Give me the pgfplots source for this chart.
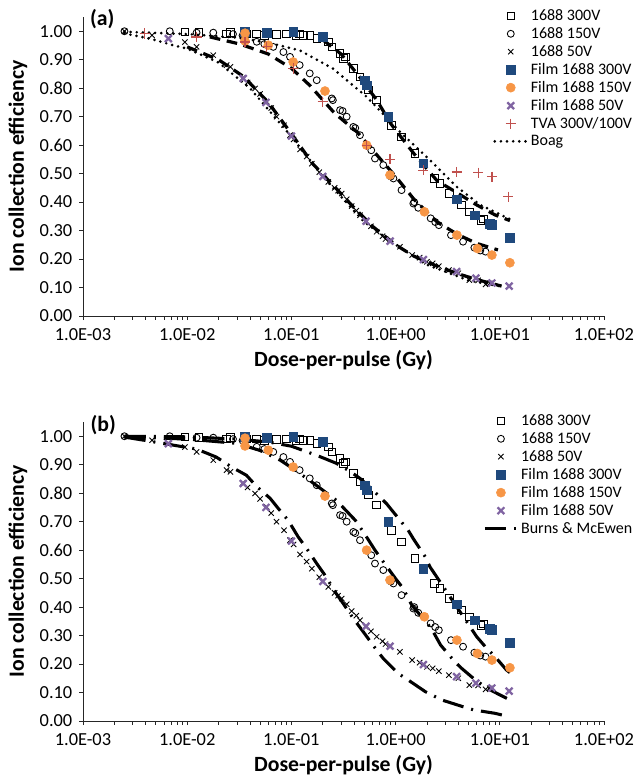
\documentclass[border=0pt]{standalone}
\usepackage{fontspec}
\setmainfont{Carlito}
\usepackage{pgfplots}
\pgfplotsset{compat=1.18}
\usepackage{pgfplotstable}

\definecolor{filmblue}{HTML}{1F497D}
\definecolor{filmorange}{HTML}{F79646}
\definecolor{filmpurple}{HTML}{8064A2}
\definecolor{tvared}{HTML}{C0504D}

% measured data (dose per pulse in Gy, collection efficiency)
\pgfplotstableread{
x y
0.0095 0.998
0.013 0.995
0.0239 0.990
0.026 0.995
0.037 0.990
0.046 0.990
0.055 0.985
0.072 0.988
0.090 0.990
0.110 0.985
0.120 0.990
0.130 0.985
0.150 0.986
0.175 0.974
0.226 0.963
0.244 0.945
0.293 0.922
0.315 0.904
0.330 0.910
0.393 0.869
0.455 0.840
0.550 0.793
0.658 0.758
0.915 0.670
1.14 0.629
1.53 0.571
2.37 0.483
2.66 0.466
3.30 0.430
4.30 0.390
5.10 0.365
6.60 0.336
7.00 0.340
}\volthree

\pgfplotstableread{
x y
0.0025 1.000
0.0068 1.000
0.0123 0.995
0.0178 0.995
0.0275 0.990
0.034 0.985
0.0465 0.963
0.055 0.955
0.067 0.945
0.0838 0.927
0.097 0.910
0.120 0.881
0.150 0.852
0.175 0.828
0.244 0.764
0.250 0.758
0.293 0.723
0.310 0.720
0.339 0.700
0.393 0.664
0.410 0.660
0.455 0.635
0.584 0.582
0.634 0.553
0.762 0.530
0.900 0.490
0.953 0.483
1.14 0.442
1.48 0.395
1.51 0.400
1.65 0.380
2.17 0.343
2.40 0.330
2.60 0.319
3.40 0.284
4.44 0.261
5.70 0.240
6.50 0.230
7.30 0.226
}\volone

\pgfplotstableread{
x y
0.0025 1.000
0.0046 0.986
0.0095 0.962
0.0123 0.945
0.0178 0.916
0.0239 0.881
0.026 0.875
0.034 0.835
0.038 0.820
0.0448 0.799
0.050 0.780
0.058 0.752
0.064 0.730
0.072 0.700
0.085 0.670
0.097 0.635
0.105 0.620
0.121 0.585
0.140 0.560
0.157 0.535
0.185 0.505
0.202 0.491
0.226 0.471
0.260 0.450
0.280 0.440
0.304 0.430
0.340 0.410
0.379 0.386
0.420 0.370
0.455 0.354
0.520 0.330
0.580 0.315
0.658 0.296
0.750 0.280
0.800 0.270
0.883 0.261
1.10 0.243
1.44 0.214
1.70 0.205
2.00 0.190
2.27 0.185
2.60 0.175
3.25 0.161
4.00 0.150
5.10 0.126
6.20 0.125
7.30 0.111
8.00 0.115
}\volfifty

\pgfplotstableread{
x y
0.0359 0.998
0.058 0.995
0.104 0.998
0.200 0.980
0.510 0.828
0.527 0.810
0.851 0.700
1.84 0.536
3.85 0.410
5.80 0.354
8.00 0.325
8.30 0.320
12.5 0.276
}\filmthree

\pgfplotstableread{
x y
0.0359 0.993
0.0359 0.966
0.060 0.951
0.104 0.892
0.210 0.790
0.527 0.600
0.883 0.495
1.89 0.366
3.88 0.284
6.10 0.237
8.40 0.214
12.5 0.187
}\filmone

\pgfplotstableread{
x y
0.0066 0.974
0.0345 0.834
0.057 0.750
0.100 0.632
0.200 0.490
0.520 0.333
0.885 0.263
1.85 0.198
3.85 0.156
5.90 0.133
8.40 0.116
12.3 0.105
}\filmfifty

\pgfplotstableread{
x y
0.0039 0.992
0.0123 0.980
0.0359 0.962
0.058 0.945
0.104 0.869
0.200 0.752
0.527 0.600
0.883 0.550
1.84 0.512
3.85 0.506
6.20 0.503
8.40 0.489
12.1 0.419
}\tva

\begin{document}
\begin{tikzpicture}
% ---------------- panel (a)
\begin{axis}[at={(62.25pt,-237pt)}, anchor=south west,
    scale only axis, width=390.75pt, height=224.25pt,
    xmode=log, xmin=1e-3, xmax=1e2, ymin=0, ymax=1.05,
    axis lines=left, axis line style={-, black!85, line width=0.6pt},
    tick align=outside, major tick length=3pt,
    tick style={black!85, line width=0.6pt},
    minor tick num=0,
    xtick={1e-3,1e-2,1e-1,1,10,100},
    xticklabels={1.0E-03,1.0E-02,1.0E-01,1.0E+00,1.0E+01,1.0E+02},
    ytick={0,0.1,0.2,0.3,0.4,0.5,0.6,0.7,0.8,0.9,1.0},
    yticklabels={0.00,0.10,0.20,0.30,0.40,0.50,0.60,0.70,0.80,0.90,1.00},
    tick label style={font=\fontsize{13.8}{16}\selectfont},
    xticklabel style={yshift=-3pt},
    yticklabel style={xshift=-1.5pt},
    xlabel={\textbf{Dose-per-pulse (Gy)}},
    ylabel={\textbf{Ion collection efficiency}},
    label style={font=\fontsize{16.3}{19}\selectfont},
    xlabel style={at={(axis description cs:0.5,-0.147)}, anchor=center},
    ylabel style={at={(axis description cs:-0.125,0.5)}, anchor=center},
    clip=false,
    legend cell align=left,
    legend image code/.code={\draw[mark repeat=2,mark phase=2,#1]
      plot coordinates {(0pt,0pt) (12pt,0pt) (24pt,0pt)};},
    legend style={at={(rel axis cs:0.787,1.035)}, anchor=north west,
      draw=none, fill=none, font=\fontsize{12}{13}\selectfont,
      inner xsep=0pt, inner ysep=0pt, row sep=-0.3pt},
  ]
\addplot[only marks, mark=square, mark size=2.8pt, black, mark options={line width=0.65pt}] table {\volthree};
\addlegendentry{1688 300V}
\addplot[only marks, mark=o, mark size=2.6pt, black, mark options={line width=0.65pt}] table {\volone};
\addlegendentry{1688 150V}
\addplot[only marks, mark=x, mark size=2.8pt, black, mark options={line width=0.65pt}] table {\volfifty};
\addlegendentry{1688 50V}
\addplot[only marks, mark=square*, mark size=3.3pt, filmblue] table {\filmthree};
\addlegendentry{Film 1688 300V}
\addplot[only marks, mark=*, mark size=3.4pt, filmorange] table {\filmone};
\addlegendentry{Film 1688 150V}
\addplot[only marks, mark=x, mark size=3.6pt, filmpurple, mark options={line width=1.7pt}] table {\filmfifty};
\addlegendentry{Film 1688 50V}
\addplot[only marks, mark=+, mark size=3.8pt, tvared, mark options={line width=0.9pt}] table {\tva};
\addlegendentry{TVA 300V/100V}
% Boag curves
\addplot[black, line width=2.2pt, line cap=round, dash pattern=on 0pt off 4.6pt, no marks] coordinates {
 (0.0025,0.998) (0.01,0.99) (0.03,0.978) (0.06,0.96) (0.12,0.933) (0.25,0.869)
 (0.527,0.77) (1.1,0.647) (2.3,0.536) (3.85,0.454) (6.5,0.39) (12.5,0.34)};
\addlegendentry{Boag}
\addplot[black, line width=2.2pt, line cap=round, dash pattern=on 0pt off 4.6pt, no marks, forget plot] coordinates {
 (0.0025,0.992) (0.0044,0.974) (0.0073,0.951) (0.01,0.939) (0.02,0.89) (0.04,0.8)
 (0.1,0.63) (0.2,0.49) (0.5,0.33) (1,0.25) (2,0.18) (5,0.125) (10,0.105)};
% dashed fits
\addplot[black, line width=2.4pt, dash pattern=on 8pt off 5pt, no marks, forget plot] coordinates {
 (0.2,0.97) (0.3,0.92) (0.45,0.84) (0.66,0.758) (0.9,0.675) (1.5,0.57) (2.5,0.475)
 (4,0.43) (6,0.39) (9,0.355) (12.5,0.335)};
\addplot[black, line width=2.4pt, dash pattern=on 8pt off 5pt, no marks, forget plot] coordinates {
 (0.0165,0.98) (0.032,0.955) (0.06,0.92) (0.1,0.87) (0.15,0.81) (0.26,0.712)
 (0.43,0.645) (0.7,0.555) (1,0.49) (1.5,0.41) (2.5,0.33) (4,0.285) (6,0.255) (9.6,0.232)};
\addplot[black, line width=2.4pt, dash pattern=on 8pt off 5pt, no marks, forget plot] coordinates {
 (0.01,0.945) (0.02,0.9) (0.035,0.84) (0.06,0.75) (0.1,0.64) (0.16,0.535)
 (0.25,0.46) (0.4,0.38) (0.6,0.315) (1,0.25) (1.5,0.21) (2.5,0.175) (4,0.148)
 (6,0.128) (10.4,0.105)};
\node[font=\fontsize{16.3}{19}\selectfont\bfseries] at (rel axis cs:0.037,0.993) {(a)};
\end{axis}
% ---------------- panel (b)
\begin{axis}[at={(62.25pt,-540.75pt)}, anchor=south west,
    scale only axis, width=390.75pt, height=224.25pt,
    xmode=log, xmin=1e-3, xmax=1e2, ymin=0, ymax=1.05,
    axis lines=left, axis line style={-, black!85, line width=0.6pt},
    tick align=outside, major tick length=3pt,
    tick style={black!85, line width=0.6pt},
    minor tick num=0,
    xtick={1e-3,1e-2,1e-1,1,10,100},
    xticklabels={1.0E-03,1.0E-02,1.0E-01,1.0E+00,1.0E+01,1.0E+02},
    ytick={0,0.1,0.2,0.3,0.4,0.5,0.6,0.7,0.8,0.9,1.0},
    yticklabels={0.00,0.10,0.20,0.30,0.40,0.50,0.60,0.70,0.80,0.90,1.00},
    tick label style={font=\fontsize{13.8}{16}\selectfont},
    xticklabel style={yshift=-3pt},
    yticklabel style={xshift=-1.5pt},
    xlabel={\textbf{Dose-per-pulse (Gy)}},
    ylabel={\textbf{Ion collection efficiency}},
    label style={font=\fontsize{16.3}{19}\selectfont},
    xlabel style={at={(axis description cs:0.5,-0.147)}, anchor=center},
    ylabel style={at={(axis description cs:-0.125,0.5)}, anchor=center},
    clip=false,
    legend cell align=left,
    legend image code/.code={\draw[mark repeat=2,mark phase=2,#1]
      plot coordinates {(0pt,0pt) (12pt,0pt) (24pt,0pt)};},
    legend style={at={(rel axis cs:0.768,1.035)}, anchor=north west,
      draw=none, fill=none, font=\fontsize{12}{13}\selectfont,
      inner xsep=0pt, inner ysep=0pt, row sep=-0.3pt},
  ]
\addplot[only marks, mark=square, mark size=2.8pt, black, mark options={line width=0.65pt}] table {\volthree};
\addlegendentry{1688 300V}
\addplot[only marks, mark=o, mark size=2.6pt, black, mark options={line width=0.65pt}] table {\volone};
\addlegendentry{1688 150V}
\addplot[only marks, mark=x, mark size=2.8pt, black, mark options={line width=0.65pt}] table {\volfifty};
\addlegendentry{1688 50V}
\addplot[only marks, mark=square*, mark size=3.3pt, filmblue] table {\filmthree};
\addlegendentry{Film 1688 300V}
\addplot[only marks, mark=*, mark size=3.4pt, filmorange] table {\filmone};
\addlegendentry{Film 1688 150V}
\addplot[only marks, mark=x, mark size=3.6pt, filmpurple, mark options={line width=1.7pt}] table {\filmfifty};
\addlegendentry{Film 1688 50V}
% Burns & McEwen curves
\addplot[black, line width=2.3pt, dash pattern=on 16pt off 6pt on 1.5pt off 6pt, no marks] coordinates {
 (0.0025,1.0) (0.01,0.998) (0.03,0.99) (0.06,0.98) (0.1,0.965) (0.175,0.933)
 (0.27,0.905) (0.36,0.878) (0.455,0.852) (0.584,0.816) (0.82,0.763) (0.98,0.728)
 (1.32,0.67) (1.48,0.64) (1.93,0.576) (2.14,0.541) (3.09,0.454) (3.86,0.401)
 (6.0,0.296) (7.5,0.255) (9.0,0.226) (11.6,0.179) (12.5,0.17)};
\addlegendentry{Burns \& McEwen}
\addplot[black, line width=2.3pt, dash pattern=on 16pt off 6pt on 1.5pt off 6pt, no marks, forget plot] coordinates {
 (0.0025,0.998) (0.01,0.99) (0.03,0.975) (0.05,0.95) (0.078,0.916) (0.11,0.88)
 (0.17,0.83) (0.27,0.775) (0.41,0.705) (0.49,0.664) (0.634,0.6) (0.762,0.559)
 (1.0,0.5) (1.18,0.466) (1.43,0.407) (2.07,0.337) (2.3,0.313) (2.7,0.267)
 (3.7,0.208) (4.3,0.185) (6,0.14) (8.5,0.105) (12.5,0.074)};
\addplot[black, line width=2.3pt, dash pattern=on 16pt off 6pt on 1.5pt off 6pt, no marks, forget plot] coordinates {
 (0.0025,0.997) (0.004,0.985) (0.0123,0.955) (0.019,0.927) (0.0266,0.892)
 (0.037,0.863) (0.0465,0.823) (0.0625,0.782) (0.075,0.746) (0.093,0.705)
 (0.116,0.647) (0.14,0.606) (0.175,0.553) (0.21,0.512) (0.27,0.447) (0.315,0.412)
 (0.393,0.36) (0.49,0.313) (0.658,0.249) (0.76,0.22) (1.06,0.167) (1.32,0.144)
 (1.93,0.103) (2.77,0.074) (4.45,0.05) (5.6,0.039) (9.0,0.027) (11.1,0.019)};
\node[font=\fontsize{16.3}{19}\selectfont\bfseries] at (rel axis cs:0.039,0.99) {(b)};
\end{axis}
\pgfresetboundingbox
\path (0pt,0pt) rectangle (480pt,-585pt);
\end{tikzpicture}
\end{document}
